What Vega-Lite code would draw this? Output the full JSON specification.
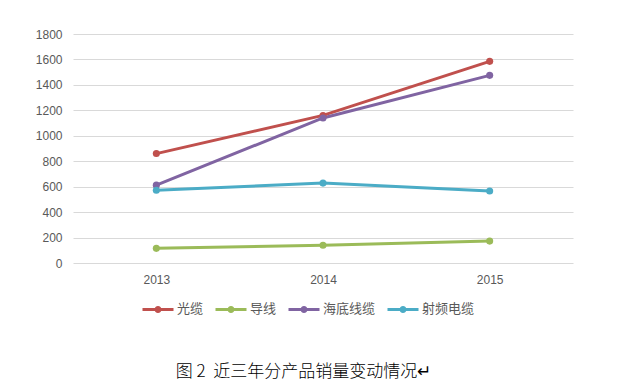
{
  "$schema": "https://vega.github.io/schema/vega-lite/v6.json",
  "width": 500,
  "height": 229,
  "autosize": {"type": "none"},
  "padding": {"left": 73, "top": 34, "right": 47, "bottom": 119},
  "background": "white",
  "data": {
    "values": [
      {"year": "2013", "product": "光缆", "value": 860},
      {"year": "2014", "product": "光缆", "value": 1160},
      {"year": "2015", "product": "光缆", "value": 1585},
      {"year": "2013", "product": "导线", "value": 115},
      {"year": "2014", "product": "导线", "value": 140},
      {"year": "2015", "product": "导线", "value": 172},
      {"year": "2013", "product": "海底线缆", "value": 612},
      {"year": "2014", "product": "海底线缆", "value": 1140},
      {"year": "2015", "product": "海底线缆", "value": 1475},
      {"year": "2013", "product": "射频电缆", "value": 572},
      {"year": "2014", "product": "射频电缆", "value": 628},
      {"year": "2015", "product": "射频电缆", "value": 566}
    ]
  },
  "mark": {"type": "line", "strokeWidth": 3, "point": {"filled": true, "size": 50}},
  "encoding": {
    "x": {
      "field": "year",
      "type": "ordinal",
      "scale": {"type": "point", "padding": 0.5},
      "title": "图 2\u00a0\u00a0近三年分产品销量变动情况↵",
      "axis": {
        "labelAngle": 0,
        "ticks": false,
        "domain": false,
        "labelPadding": 11,
        "labelColor": "#595959",
        "labelFont": "Liberation Sans",
        "labelFontSize": 12,
        "titlePadding": 78,
        "titleAnchor": "middle",
        "titleX": 230,
        "titleFont": "Noto Sans CJK SC",
        "titleFontSize": 17,
        "titleFontWeight": 300,
        "titleColor": "#000000"
      }
    },
    "y": {
      "field": "value",
      "type": "quantitative",
      "scale": {"domain": [0, 1800], "nice": false},
      "axis": {
        "title": null,
        "values": [0, 200, 400, 600, 800, 1000, 1200, 1400, 1600, 1800],
        "format": "d",
        "ticks": false,
        "domain": false,
        "gridColor": "#d9d9d9",
        "gridWidth": 1,
        "labelPadding": 11,
        "labelColor": "#595959",
        "labelFont": "Liberation Sans",
        "labelFontSize": 12
      }
    },
    "color": {
      "field": "product",
      "type": "nominal",
      "scale": {
        "domain": ["光缆", "导线", "海底线缆", "射频电缆"],
        "range": ["#C0504D", "#9BBB59", "#8064A2", "#4BACC6"]
      },
      "legend": {
        "title": null,
        "orient": "none",
        "legendX": 68,
        "legendY": 258,
        "direction": "horizontal",
        "symbolType": "M-1,0H1M-0.13,0A0.13,0.13,0,1,1,0.13,0A0.13,0.13,0,1,1,-0.13,0",
        "symbolSize": 961,
        "symbolStrokeWidth": 3,
        "labelOffset": 2,
        "columnPadding": 5,
        "labelFont": "Noto Sans CJK SC",
        "labelFontSize": 13,
        "labelColor": "#595959"
      }
    }
  },
  "config": {"view": {"stroke": null}}
}
